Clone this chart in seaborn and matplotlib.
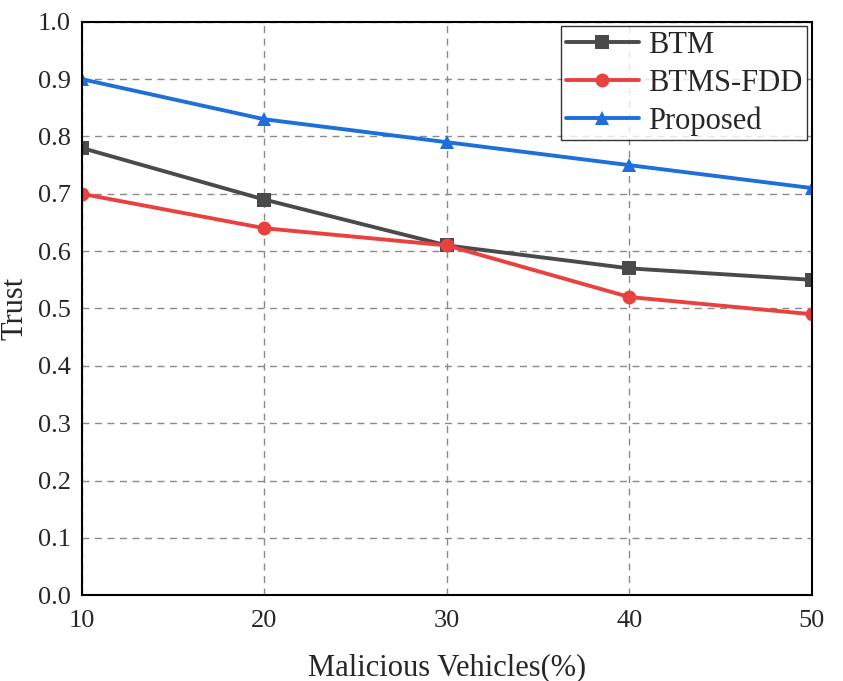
import matplotlib
matplotlib.use("Agg")
import matplotlib.pyplot as plt
import seaborn as sns
import pandas as pd

x_vals = [10, 20, 30, 40, 50]
btm = [0.78, 0.69, 0.61, 0.57, 0.55]
btms_fdd = [0.70, 0.64, 0.61, 0.52, 0.49]
proposed = [0.90, 0.83, 0.79, 0.75, 0.71]
series_names = ["BTM", "BTMS-FDD", "Proposed"]
y_ticks = [0.0, 0.1, 0.2, 0.3, 0.4, 0.5, 0.6, 0.7, 0.8, 0.9, 1.0]

sns.set_theme(style="white")
plt.rcParams['font.family'] = ['Liberation Serif', 'DejaVu Serif']

df = pd.DataFrame({
    "x": x_vals * 3,
    "y": btm + btms_fdd + proposed,
    "series": [series_names[0]] * 5 + [series_names[1]] * 5 + [series_names[2]] * 5,
})

fig = plt.figure(figsize=(8.43, 6.81), dpi=100)
ax = fig.add_axes([0.097, 0.126, 0.866, 0.842])

palette = {"BTM": "#4a4a4a", "BTMS-FDD": "#e8413f", "Proposed": "#1e6fd9"}
markers = {"BTM": "s", "BTMS-FDD": "o", "Proposed": "^"}
sns.lineplot(data=df, x="x", y="y", hue="series", style="series",
             markers=markers, dashes=False, palette=palette,
             linewidth=2.8, markersize=10, markeredgewidth=0, ax=ax)

ax.set_xlim(10, 50)
ax.set_ylim(0, 1.0)
ax.set_xticks(x_vals)
ax.set_yticks(y_ticks)
ax.set_yticklabels([f"{v:.1f}" for v in y_ticks])
ax.tick_params(axis='x', labelsize=19, length=0, pad=11)
ax.tick_params(axis='y', labelsize=19, length=0, pad=8)
ax.grid(True, linestyle=(0, (5, 4)), color="#8a8a8a", linewidth=1.0)
for s in ax.spines.values():
    s.set_color("black")
    s.set_linewidth(1.5)
ax.set_xlabel("Malicious Vehicles(%)", fontsize=22, labelpad=15)
ax.set_ylabel("Trust", fontsize=22, labelpad=6)

leg = ax.legend(loc="upper right", fontsize=22, frameon=True, fancybox=False,
                borderpad=0.15, handlelength=2.4, handletextpad=0.3,
                labelspacing=0.28, borderaxespad=0.15)
leg.get_frame().set_edgecolor("black")
leg.get_frame().set_linewidth(1.0)

fig.savefig("out.png", dpi=100)
